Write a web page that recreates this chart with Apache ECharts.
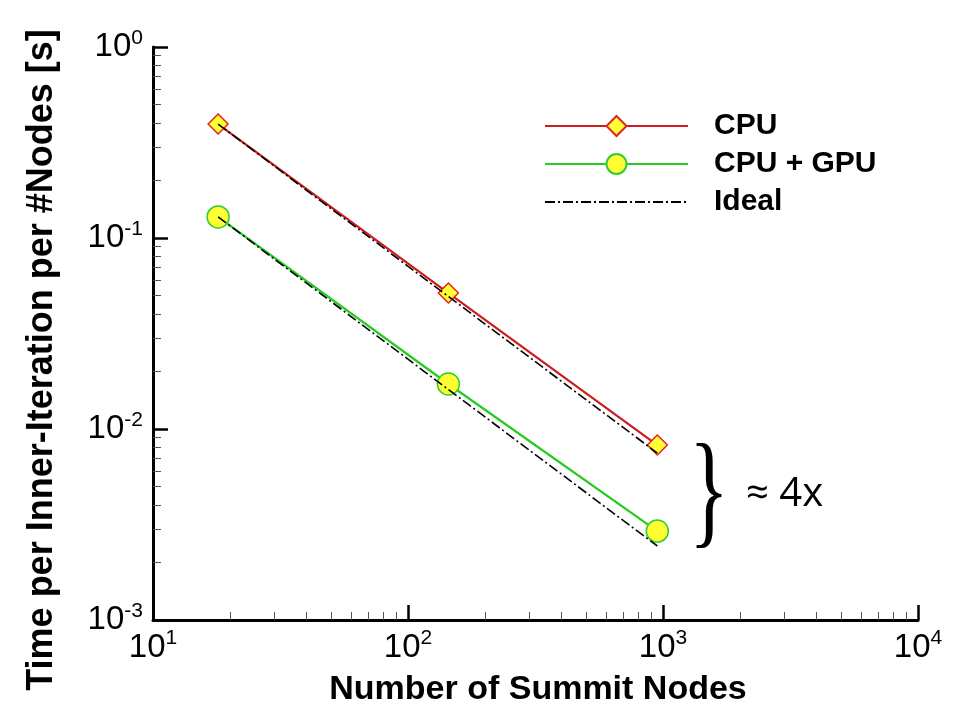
<!DOCTYPE html>
<html><head><meta charset="utf-8">
<script src="https://cdn.jsdelivr.net/npm/echarts@6/dist/echarts.min.js"></script>
<style>html,body{margin:0;padding:0;background:#fff}#c{width:968px;height:716px}</style>
</head><body><div id="c"></div>
<script>
// Data
const nodes = [18, 144, 950];
const cpuTime = [0.395, 0.0515, 0.00824];
const gpuTime = [0.129, 0.0172, 0.00292];
const idealCpu = [0.395, 0.0494, 0.00748];
const idealGpu = [0.129, 0.0161, 0.00244];
const xMajorTicks = [10, 100, 1000, 10000];
const xMinorTicks = [20, 30, 40, 50, 60, 70, 80, 90, 200, 300, 400, 500, 600, 700, 800, 900, 2000, 3000, 4000, 5000, 6000, 7000, 8000, 9000];
const yMajorTicks = [0.001, 0.01, 0.1, 1];
const yMinorTicks = [0.002, 0.003, 0.004, 0.005, 0.006, 0.007, 0.008, 0.009, 0.02, 0.03, 0.04, 0.05, 0.06, 0.07, 0.08, 0.09, 0.2, 0.3, 0.4, 0.5, 0.6, 0.7, 0.8, 0.9];
const seriesNames = ['CPU', 'CPU + GPU', 'Ideal'];
const xTitle = 'Number of Summit Nodes';
const yTitle = 'Time per Inner-Iteration per #Nodes [s]';

const FONT = 'Liberation Sans';
const pairs = (xs, ys) => xs.map((x, i) => [x, ys[i]]);
const powLabel = v => '{b|10}{s|' + Math.round(Math.log10(v)) + '}';
const richLbl = {
  b: { fontSize: 33, fontFamily: FONT, color: '#000' },
  s: { fontSize: 21, fontFamily: FONT, color: '#000', padding: [0, 0, 18, 0] }
};

const chart = echarts.init(document.getElementById('c'), null, { renderer: 'canvas' });
const ideal = (d) => ({
  name: seriesNames[2], type: 'line', data: pairs(nodes, d), symbol: 'none', z: 5,
  lineStyle: { color: '#000', width: 1.6, type: [10, 3, 2, 3] }, itemStyle: { color: 'rgba(0,0,0,0)' }
});
chart.setOption({
  animation: false,
  backgroundColor: '#fff',
  grid: { left: 153, right: 50, top: 47, bottom: 96, containLabel: false, outerBoundsMode: 'none' },
  xAxis: [{
    type: 'log', logBase: 10, min: 10, max: 10000, position: 'bottom',
    axisLine: { lineStyle: { color: '#000', width: 3 } },
    axisTick: { inside: true, length: 15, lineStyle: { color: '#000', width: 2.5 }, customValues: xMajorTicks },
    axisLabel: { customValues: xMajorTicks, formatter: powLabel, rich: richLbl, margin: 8 },
    splitLine: { show: false }, minorTick: { show: false }
  }, {
    type: 'log', logBase: 10, min: 10, max: 10000, position: 'bottom',
    axisLine: { show: false },
    axisTick: { inside: true, length: 8, lineStyle: { color: '#555', width: 1 }, customValues: xMinorTicks },
    axisLabel: { show: false }, splitLine: { show: false }
  }],
  yAxis: [{
    type: 'log', logBase: 10, min: 0.001, max: 1, position: 'left',
    axisLine: { lineStyle: { color: '#000', width: 3 } },
    axisTick: { inside: true, length: 15, lineStyle: { color: '#000', width: 2.5 }, customValues: yMajorTicks },
    axisLabel: { customValues: yMajorTicks, formatter: powLabel, rich: richLbl, margin: 10 },
    splitLine: { show: false }, minorTick: { show: false }
  }, {
    type: 'log', logBase: 10, min: 0.001, max: 1, position: 'left',
    axisLine: { show: false },
    axisTick: { inside: true, length: 8, lineStyle: { color: '#555', width: 1 }, customValues: yMinorTicks },
    axisLabel: { show: false }, splitLine: { show: false }
  }],
  legend: {
    orient: 'vertical', left: 539, top: 106, itemWidth: 143, itemHeight: 25, itemGap: 8,
    data: seriesNames,
    textStyle: { fontFamily: FONT, fontWeight: 'bold', fontSize: 30, color: '#000', padding: [0, 0, 0, 21] }
  },
  series: [
    {
      name: seriesNames[0], type: 'line', data: pairs(nodes, cpuTime), symbol: 'diamond', symbolSize: 20, z: 3,
      lineStyle: { color: '#cc1c1c', width: 2.2 },
      itemStyle: { color: '#ffff33', borderColor: '#e02424', borderWidth: 1.5 }
    },
    {
      name: seriesNames[1], type: 'line', data: pairs(nodes, gpuTime), symbol: 'circle', symbolSize: 22, z: 3,
      lineStyle: { color: '#22cc22', width: 2.2 },
      itemStyle: { color: '#ffff33', borderColor: '#33cc33', borderWidth: 1.5 }
    },
    ideal(idealCpu),
    ideal(idealGpu)
  ],
  graphic: [
    { type: 'text', x: 42, y: 360, rotation: Math.PI / 2,
      style: { text: yTitle, fontFamily: FONT, fontWeight: 'bold', fontSize: 36, fill: '#000', align: 'center', verticalAlign: 'middle' } },
    { type: 'text', x: 538, y: 690,
      style: { text: xTitle, fontFamily: FONT, fontWeight: 'bold', fontSize: 34, fill: '#000', align: 'center', verticalAlign: 'middle' } },
    { type: 'text', x: 709, y: 497, scaleX: 0.65,
      style: { text: '}', fontFamily: 'Liberation Serif', fontSize: 128, fill: '#000', align: 'center', verticalAlign: 'middle' } },
    { type: 'text', x: 746, y: 495,
      style: { text: '≈ 4x', fontFamily: 'Open Sans', fontSize: 40, fill: '#000', align: 'left', verticalAlign: 'middle' } }
  ]
});
</script></body></html>
